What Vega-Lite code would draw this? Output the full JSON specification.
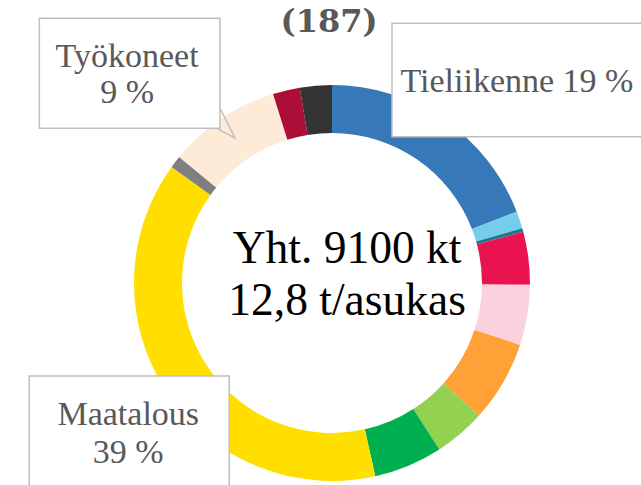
{
  "$schema": "https://vega.github.io/schema/vega-lite/v6.json",
  "width": 618,
  "height": 404,
  "autosize": {"type": "none"},
  "padding": {"left": 23, "top": 81, "right": 0, "bottom": 0},
  "background": "white",
  "config": {"view": {"stroke": null}},
  "datasets": {
    "sectors": [
      {"order": 1, "sector": "Tieliikenne", "value": 19.1},
      {"order": 2, "sector": "Raideliikenne", "value": 1.4},
      {"order": 3, "sector": "Vesiliikenne", "value": 0.3},
      {"order": 4, "sector": "Sähkönkulutus", "value": 4.3},
      {"order": 5, "sector": "Sähkölämmitys", "value": 4.9},
      {"order": 6, "sector": "Kaukolämpö", "value": 6.6},
      {"order": 7, "sector": "Öljylämmitys", "value": 4.2},
      {"order": 8, "sector": "Muu lämmitys", "value": 5.6},
      {"order": 9, "sector": "Maatalous", "value": 38.4},
      {"order": 10, "sector": "F-kaasut", "value": 1.0},
      {"order": 11, "sector": "Työkoneet", "value": 9.2},
      {"order": 12, "sector": "Teollisuus", "value": 2.2},
      {"order": 13, "sector": "Jätteiden käsittely", "value": 2.6}
    ],
    "boxes": [
      {"name": "Tieliikenne", "x1": 30.3, "x2": 175.8, "y1": 131.2, "y2": 73.9},
      {"name": "Työkoneet", "x1": -147.8, "x2": -56.6, "y1": 133.7, "y2": 78.1},
      {"name": "Maatalous", "x1": -152.9, "x2": -51.9, "y1": -47.0, "y2": -109.6}
    ],
    "tail": [
      {"i": 1, "x": -56.6, "y": 88.4},
      {"i": 2, "x": -49.0, "y": 73.1},
      {"i": 3, "x": -58.1, "y": 78.1}
    ],
    "labels": [
      {"x": 93.4, "y": 96.6, "label": "Tieliikenne 19 %"},
      {"x": -103.5, "y": 109.2, "label": "Työkoneet"},
      {"x": -103.5, "y": 90.9, "label": "9 %"},
      {"x": -102.9, "y": -71.7, "label": "Maatalous"},
      {"x": -102.9, "y": -90.8, "label": "39 %"}
    ],
    "center": [
      {"x": 7.6, "y": 10.1, "label": "Yht. 9100 kt"},
      {"x": 7.6, "y": -16.2, "label": "12,8 t/asukas"}
    ],
    "title": [
      {"x": -1.5, "y": 126.8, "label": "(187)"}
    ]
  },
  "resolve": {"scale": {"x": "shared", "y": "shared"}},
  "layer": [
    {
      "data": {"name": "sectors"},
      "mark": {"type": "arc", "outerRadius": 198, "innerRadius": 150, "stroke": null},
      "encoding": {
        "theta": {"field": "value", "type": "quantitative", "stack": true},
        "order": {"field": "order", "type": "quantitative"},
        "color": {
          "field": "sector",
          "type": "nominal",
          "sort": null,
          "legend": null,
          "scale": {
            "domain": ["Tieliikenne", "Raideliikenne", "Vesiliikenne", "Sähkönkulutus", "Sähkölämmitys", "Kaukolämpö", "Öljylämmitys", "Muu lämmitys", "Maatalous", "F-kaasut", "Työkoneet", "Teollisuus", "Jätteiden käsittely"],
            "range": ["#3778B8", "#74CDE9", "#1F7891", "#E91350", "#FAD2DE", "#FFA136", "#93D150", "#00AF50", "#FFDE00", "#7F7F7F", "#FDEBD7", "#AD0E37", "#333333"]
          }
        }
      }
    },
    {
      "data": {"name": "boxes"},
      "mark": {"type": "rect", "fill": "white", "stroke": "#BFBFBF", "strokeWidth": 1.5},
      "encoding": {
        "x": {"field": "x1", "type": "quantitative", "scale": {"domain": [-156.06, 156.06], "nice": false, "zero": false}, "axis": null},
        "x2": {"field": "x2"},
        "y": {"field": "y1", "type": "quantitative", "scale": {"domain": [-102.02, 102.02], "nice": false, "zero": false}, "axis": null},
        "y2": {"field": "y2"}
      }
    },
    {
      "data": {"name": "tail"},
      "mark": {"type": "line", "stroke": "#BFBFBF", "strokeWidth": 1.5},
      "encoding": {
        "x": {"field": "x", "type": "quantitative"},
        "y": {"field": "y", "type": "quantitative"},
        "order": {"field": "i", "type": "quantitative"}
      }
    },
    {
      "data": {"name": "labels"},
      "mark": {"type": "text", "font": "Liberation Serif", "fontSize": 34, "color": "#595959", "align": "center", "baseline": "alphabetic"},
      "encoding": {
        "x": {"field": "x", "type": "quantitative"},
        "y": {"field": "y", "type": "quantitative"},
        "text": {"field": "label"}
      }
    },
    {
      "data": {"name": "center"},
      "mark": {"type": "text", "font": "Liberation Serif", "fontSize": 45.5, "color": "#000000", "align": "center", "baseline": "alphabetic"},
      "encoding": {
        "x": {"field": "x", "type": "quantitative"},
        "y": {"field": "y", "type": "quantitative"},
        "text": {"field": "label"}
      }
    },
    {
      "data": {"name": "title"},
      "mark": {"type": "text", "font": "DejaVu Serif", "fontWeight": "bold", "fontSize": 32, "color": "#595959", "align": "center", "baseline": "alphabetic"},
      "encoding": {
        "x": {"field": "x", "type": "quantitative"},
        "y": {"field": "y", "type": "quantitative"},
        "text": {"field": "label"}
      }
    }
  ]
}
